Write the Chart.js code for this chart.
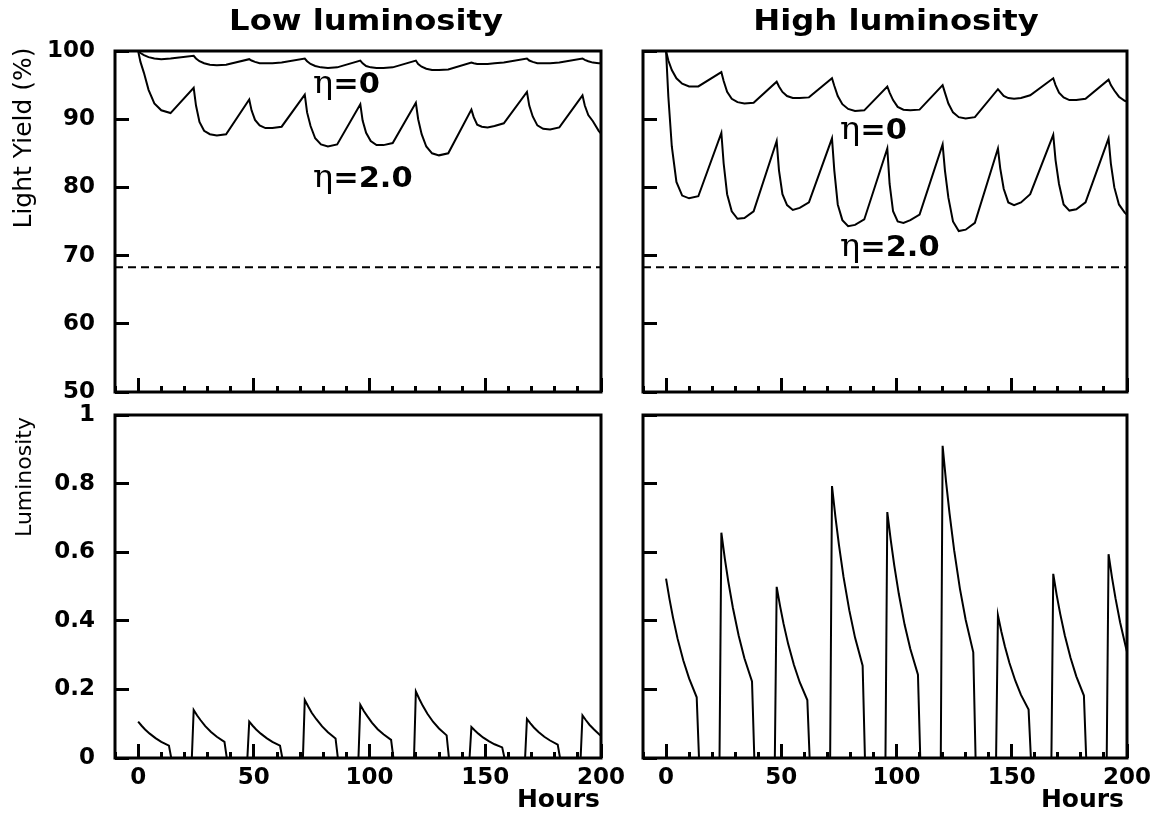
<!DOCTYPE html>
<html>
<head>
<meta charset="utf-8">
<title>Light yield and luminosity</title>
<script src="https://cdn.jsdelivr.net/npm/chart.js@4.4.1/dist/chart.umd.min.js"></script>
<style>
  html, body { margin: 0; padding: 0; background: #fff; }
  #wrap { position: relative; width: 1161px; height: 814px; }
  #wrap canvas { position: absolute; left: 0; top: 0; }
</style>
</head>
<body>
<div id="wrap">
  <canvas id="topLeft" width="1161" height="814"></canvas>
  <canvas id="topRight" width="1161" height="814"></canvas>
  <canvas id="bottomLeft" width="1161" height="814"></canvas>
  <canvas id="bottomRight" width="1161" height="814"></canvas>
</div>
<script>
// Light yield (%) vs hours
const YIELD_HOURS = [
  0, 1, 2.5, 4.5, 7, 10, 14,
  24, 25, 26.5, 28.5, 31, 34, 38,
  48, 49, 50.5, 52.5, 55, 58, 62,
  72, 73, 74.5, 76.5, 79, 82, 86,
  96, 97, 98.5, 100.5, 103, 106, 110,
  120, 121, 122.5, 124.5, 127, 130, 134,
  144, 145, 146.5, 148.5, 151, 154, 158,
  168, 169, 170.5, 172.5, 175, 178, 182,
  192, 193, 194.5, 196.5, 199, 200
];
const LOW_ETA0 = [
  100, 99.7, 99.4, 99.1, 98.9, 98.8, 98.9,
  99.3, 98.9, 98.5, 98.2, 98.0, 97.9, 98.0,
  98.8, 98.6, 98.4, 98.2, 98.2, 98.2, 98.3,
  98.9, 98.5, 98.1, 97.8, 97.6, 97.5, 97.6,
  98.6, 98.2, 97.8, 97.6, 97.5, 97.5, 97.6,
  98.6, 98.1, 97.7, 97.4, 97.2, 97.2, 97.3,
  98.3, 98.2, 98.1, 98.1, 98.1, 98.2, 98.3,
  98.9, 98.6, 98.4, 98.2, 98.2, 98.2, 98.3,
  98.9, 98.7, 98.5, 98.3, 98.2, 98.2
];
const LOW_ETA2 = [
  100, 98.4, 96.8, 94.3, 92.3, 91.3, 90.9,
  94.6, 92.0, 89.6, 88.3, 87.8, 87.6, 87.8,
  92.9, 91.3, 89.9, 89.1, 88.7, 88.7, 88.9,
  93.6, 91.0, 89.0, 87.2, 86.3, 86.0, 86.3,
  92.2, 89.8, 88.0, 86.8, 86.2, 86.2, 86.5,
  92.4, 90.0, 87.8, 86.0, 85.0, 84.7, 85.0,
  91.4, 90.3, 89.2, 88.9, 88.8, 89.0, 89.4,
  94.0, 92.0, 90.4, 89.1, 88.6, 88.5, 88.8,
  93.5, 92.0, 90.6, 89.7, 88.3, 87.9
];
const HIGH_ETA0 = [
  100, 98.6, 97.2, 96.0, 95.2, 94.8, 94.8,
  96.9, 95.6, 94.0, 93.0, 92.5, 92.3, 92.4,
  95.5, 94.8, 94.0, 93.4, 93.1, 93.1, 93.2,
  96.0, 94.9, 93.4, 92.2, 91.5, 91.2, 91.3,
  94.8, 93.9, 92.8, 91.8, 91.4, 91.3, 91.4,
  95.0, 93.9, 92.3, 91.0, 90.3, 90.1, 90.3,
  94.4, 94.0, 93.4, 93.1, 93.0, 93.1, 93.5,
  96.0, 95.0, 93.9, 93.2, 92.8, 92.8, 93.0,
  95.8, 95.0, 94.2, 93.3, 92.7, 92.6
];
const HIGH_ETA2 = [
  100, 93.3, 86.0, 80.8, 78.8, 78.4, 78.7,
  88.0, 83.5, 79.0, 76.5, 75.4, 75.5, 76.5,
  86.8, 82.5, 79.0, 77.4, 76.7, 77.0, 77.8,
  87.2, 82.5, 77.5, 75.2, 74.3, 74.5, 75.3,
  85.7, 80.5, 76.5, 75.0, 74.8, 75.2, 76.0,
  86.3, 82.5, 78.5, 75.0, 73.6, 73.8, 74.8,
  85.7, 82.8, 79.8, 77.8, 77.4, 77.8, 79.0,
  87.7, 84.0, 80.5, 77.5, 76.6, 76.8, 77.8,
  87.2, 83.5, 80.0, 77.5, 76.3, 76.0
];
const LIMIT_HOURS = [-10, 200];
const LIMIT_YIELD = [68.3, 68.3];

// Luminosity vs hours
const LUM_HOURS = [
  0, 1.5, 3, 5, 7.5, 10, 13.3, 14.3,
  23.2, 24, 25.5, 27, 29, 31.5, 34, 37.3, 38.3,
  47.2, 48, 49.5, 51, 53, 55.5, 58, 61.3, 62.3,
  71.2, 72, 73.5, 75, 77, 79.5, 82, 85.3, 86.3,
  95.2, 96, 97.5, 99, 101, 103.5, 106, 109.3, 110.3,
  119.2, 120, 121.5, 123, 125, 127.5, 130, 133.3, 134.3,
  143.2, 144, 145.5, 147, 149, 151.5, 154, 157.3, 158.3,
  167.2, 168, 169.5, 171, 173, 175.5, 178, 181.3, 182.3,
  191.2, 192, 193.5, 195, 197, 199.5, 200
];
const LUM_LOW = [
  0.106, 0.094, 0.083, 0.071, 0.058, 0.047, 0.036, 0,
  0, 0.140, 0.124, 0.110, 0.093, 0.076, 0.062, 0.047, 0,
  0, 0.106, 0.094, 0.083, 0.071, 0.058, 0.047, 0.036, 0,
  0, 0.169, 0.150, 0.132, 0.113, 0.092, 0.075, 0.057, 0,
  0, 0.155, 0.137, 0.122, 0.103, 0.084, 0.069, 0.053, 0,
  0, 0.194, 0.172, 0.152, 0.129, 0.105, 0.086, 0.066, 0,
  0, 0.090, 0.080, 0.071, 0.060, 0.049, 0.040, 0.031, 0,
  0, 0.114, 0.101, 0.089, 0.076, 0.062, 0.051, 0.039, 0,
  0, 0.124, 0.110, 0.097, 0.083, 0.067, 0.065
];
const LUM_HIGH = [
  0.523, 0.463, 0.410, 0.348, 0.284, 0.232, 0.177, 0,
  0, 0.657, 0.581, 0.515, 0.438, 0.357, 0.291, 0.223, 0,
  0, 0.499, 0.442, 0.391, 0.332, 0.271, 0.221, 0.169, 0,
  0, 0.793, 0.702, 0.622, 0.528, 0.431, 0.351, 0.269, 0,
  0, 0.717, 0.635, 0.562, 0.478, 0.389, 0.318, 0.243, 0,
  0, 0.910, 0.805, 0.713, 0.606, 0.494, 0.403, 0.308, 0,
  0, 0.416, 0.368, 0.326, 0.277, 0.226, 0.184, 0.141, 0,
  0, 0.537, 0.475, 0.421, 0.358, 0.292, 0.238, 0.182, 0,
  0, 0.594, 0.526, 0.466, 0.396, 0.323, 0.310
];

const W = 1161, H = 814;
const FONT = 'DejaVu Sans';

// thick box round the plot area
const framePlugin = {
  id: 'frame',
  afterDraw(chart) {
    const { ctx, chartArea: a } = chart;
    ctx.save();
    ctx.strokeStyle = '#000';
    ctx.lineWidth = 3;
    ctx.strokeRect(a.left, a.top, a.right - a.left, a.bottom - a.top);
    ctx.restore();
  }
};

// titles, axis names and the eta labels
const notesPlugin = {
  id: 'notes',
  afterDraw(chart, args, opts) {
    const ctx = chart.ctx;
    for (const n of opts.items || []) {
      const parts = n.parts || [{ text: n.text, font: n.font }];
      ctx.save();
      ctx.translate(n.x, n.y);
      if (n.rotate) ctx.rotate(n.rotate);
      if (n.sx) ctx.scale(n.sx, 1);
      ctx.fillStyle = '#000';
      ctx.textAlign = 'left';
      ctx.textBaseline = 'alphabetic';
      let width = 0;
      parts.forEach(p => { ctx.font = p.font; width += ctx.measureText(p.text).width; });
      let x = n.align === 'center' ? -width / 2 : n.align === 'right' ? -width : 0;
      parts.forEach(p => { ctx.font = p.font; ctx.fillText(p.text, x, 0); x += ctx.measureText(p.text).width; });
      ctx.restore();
    }
  }
};

const eta = (x, y, rest) => ({
  x, y, sx: 1.05,
  parts: [{ text: 'η', font: '32px DejaVu Serif' }, { text: rest, font: `bold 29px ${FONT}` }]
});
const title = (x, text) => ({ x, y: 30, sx: 1.15, align: 'center', text, font: `bold 28px ${FONT}` });
const hours = x => ({ x, y: 807, align: 'right', text: 'Hours', font: `bold 25px ${FONT}` });
const tickText = v => String(+v.toFixed(1));

function panel(id, cfg) {
  const datasets = cfg.series.map(s => ({
    data: s.hours.map((h, i) => ({ x: h, y: s.values[i] })),
    borderColor: '#000',
    borderWidth: 2,
    borderDash: s.dash || [],
    pointRadius: 0,
    tension: 0,
    fill: false
  }));
  const tickFont = { family: FONT, weight: 'bold', size: 23 };
  // fixed axis boxes so the plot areas land where the reference has them
  const fixX = h => s => { s.height = h; s.paddingLeft = 0; s.paddingRight = 0; };
  const fixY = w => s => { s.width = w; s.paddingTop = 0; s.paddingBottom = 0; };
  const yWidth = cfg.yLabels ? cfg.box[0] : 0;
  const xHeight = cfg.xLabels ? H - cfg.box[3] : 0;
  return new Chart(document.getElementById(id), {
    type: 'line',
    data: { datasets },
    options: {
      responsive: false,
      animation: false,
      events: [],
      layout: { padding: { left: cfg.box[0] - yWidth, right: W - cfg.box[1], top: cfg.box[2], bottom: H - cfg.box[3] - xHeight } },
      plugins: { legend: { display: false }, tooltip: { enabled: false }, notes: { items: cfg.notes } },
      scales: {
        x: {
          type: 'linear', position: 'bottom', weight: 1, min: -10, max: 200, afterFit: fixX(xHeight),
          border: { display: false },
          grid: { drawOnChartArea: false, tickLength: -14, tickWidth: 3, tickColor: '#000' },
          ticks: { display: cfg.xLabels, stepSize: 50, includeBounds: false, autoSkip: false, maxRotation: 0,
                   padding: 20, color: '#000', font: tickFont, callback: tickText }
        },
        xMinor: {
          type: 'linear', position: 'bottom', weight: 0, min: -10, max: 200, afterFit: fixX(0),
          border: { display: false },
          grid: { drawOnChartArea: false, tickLength: -6, tickWidth: 3, tickColor: '#000' },
          ticks: { display: false, stepSize: 10 }
        },
        y: {
          type: 'linear', position: 'left', min: cfg.y[0], max: cfg.y[1], afterFit: fixY(yWidth),
          border: { display: false },
          grid: { drawOnChartArea: false, tickLength: -14, tickWidth: 3, tickColor: '#000' },
          ticks: { display: cfg.yLabels, stepSize: cfg.y[2], padding: 34, color: '#000', font: tickFont, callback: tickText }
        }
      }
    },
    plugins: [framePlugin, notesPlugin]
  });
}

const limit = { hours: LIMIT_HOURS, values: LIMIT_YIELD, dash: [8, 5] };

panel('topLeft', {
  box: [115, 601, 51, 392], y: [50, 100, 10], xLabels: false, yLabels: true,
  series: [
    { hours: YIELD_HOURS, values: LOW_ETA0 },
    { hours: YIELD_HOURS, values: LOW_ETA2 },
    limit
  ],
  notes: [
    title(366, 'Low luminosity'),
    { x: 31, y: 138, rotate: -Math.PI / 2, align: 'center', text: 'Light Yield (%)', font: `25px ${FONT}` },
    eta(313, 93, '=0'),
    eta(313, 187, '=2.0')
  ]
});

panel('topRight', {
  box: [643, 1127, 51, 392], y: [50, 100, 10], xLabels: false, yLabels: false,
  series: [
    { hours: YIELD_HOURS, values: HIGH_ETA0 },
    { hours: YIELD_HOURS, values: HIGH_ETA2 },
    limit
  ],
  notes: [
    title(896, 'High luminosity'),
    eta(840, 139, '=0'),
    eta(840, 256, '=2.0')
  ]
});

panel('bottomLeft', {
  box: [115, 601, 415, 758], y: [0, 1, 0.2], xLabels: true, yLabels: true,
  series: [{ hours: LUM_HOURS, values: LUM_LOW }],
  notes: [
    { x: 31, y: 477, rotate: -Math.PI / 2, align: 'center', text: 'Luminosity', font: `22px ${FONT}` },
    hours(600)
  ]
});

panel('bottomRight', {
  box: [643, 1127, 415, 758], y: [0, 1, 0.2], xLabels: true, yLabels: false,
  series: [{ hours: LUM_HOURS, values: LUM_HIGH }],
  notes: [hours(1124)]
});
</script>
</body>
</html>
